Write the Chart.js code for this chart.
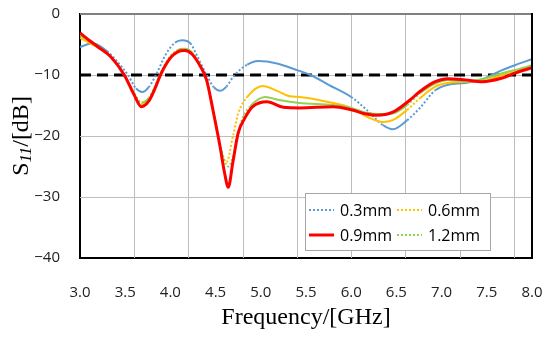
<!DOCTYPE html>
<html>
<head>
<meta charset="utf-8">
<script src="https://cdn.jsdelivr.net/npm/chart.js@4.4.1/dist/chart.umd.min.js"></script>
<style>
html, body { margin: 0; padding: 0; background: #fff; }
#wrap { width: 550px; height: 338px; }
</style>
</head>
<body>
<div id="wrap"><canvas id="myChart" width="550" height="338"></canvas></div>
<script>
// values
var labels = ["0.3mm", "0.6mm", "0.9mm", "1.2mm"];

var freq03 = [3.0, 3.14, 3.3, 3.4, 3.53, 3.62, 3.69, 3.76, 3.84, 3.95, 4.05, 4.13, 4.22, 4.3, 4.4, 4.48, 4.55, 4.62, 4.7, 4.85, 4.97, 5.18, 5.4, 5.55, 5.75, 6.0, 6.17, 6.35, 6.46, 6.62, 6.76, 6.93, 7.07, 7.26, 7.45, 7.67, 7.81, 8.0];
var s11_03 = [-5.4, -4.8, -6.1, -7.6, -10.0, -12.2, -12.8, -12.0, -10.0, -6.6, -4.7, -4.3, -4.8, -7.0, -10.0, -12.0, -12.6, -11.9, -10.2, -8.3, -7.7, -8.1, -9.2, -10.0, -11.6, -13.6, -15.7, -18.2, -18.9, -17.4, -15.4, -12.5, -11.6, -11.3, -10.7, -9.2, -8.4, -7.4];

var freq06 = [3.0, 3.1, 3.2, 3.34, 3.48, 3.6, 3.68, 3.76, 3.83, 3.89, 4.0, 4.08, 4.16, 4.24, 4.32, 4.4, 4.47, 4.54, 4.62, 4.69, 4.75, 4.85, 5.02, 5.18, 5.32, 5.43, 5.8, 6.0, 6.17, 6.35, 6.46, 6.62, 6.76, 6.93, 7.07, 7.26, 7.45, 7.67, 7.81, 8.0];
var s11_06 = [-3.9, -4.7, -5.5, -7.0, -9.8, -13.0, -14.8, -14.0, -12.0, -9.8, -7.0, -6.0, -5.8, -6.4, -8.2, -11.0, -15.5, -21.0, -24.3, -20.2, -16.3, -13.6, -11.8, -12.6, -13.5, -13.6, -14.6, -15.4, -16.8, -17.7, -17.4, -15.7, -13.8, -11.9, -11.3, -11.1, -11.0, -10.0, -9.5, -8.5];

var freq09 = [3.0, 3.1, 3.2, 3.34, 3.49, 3.6, 3.68, 3.76, 3.83, 3.89, 4.0, 4.08, 4.16, 4.24, 4.32, 4.4, 4.47, 4.55, 4.6, 4.64, 4.69, 4.75, 4.83, 4.91, 5.07, 5.25, 5.43, 5.8, 6.0, 6.17, 6.28, 6.46, 6.65, 6.76, 6.93, 7.07, 7.26, 7.45, 7.67, 7.81, 8.0];
var s11_09 = [-3.1, -4.3, -5.4, -7.0, -10.0, -13.3, -15.2, -14.3, -12.2, -10.0, -7.2, -6.2, -6.0, -6.6, -8.3, -10.8, -15.7, -21.8, -26.1, -28.4, -24.4, -19.5, -16.9, -15.2, -14.4, -15.3, -15.4, -15.2, -15.7, -16.4, -16.6, -16.1, -14.1, -12.7, -11.1, -10.6, -10.8, -11.1, -10.5, -9.7, -8.8];

var freq12 = [3.0, 3.1, 3.2, 3.34, 3.49, 3.6, 3.68, 3.76, 3.83, 3.89, 4.0, 4.08, 4.16, 4.24, 4.32, 4.4, 4.47, 4.55, 4.64, 4.72, 4.79, 4.88, 5.05, 5.2, 5.43, 5.8, 6.0, 6.17, 6.35, 6.46, 6.62, 6.76, 6.93, 7.07, 7.26, 7.45, 7.67, 7.81, 8.0];
var s11_12 = [-3.5, -4.4, -5.4, -7.0, -10.0, -13.0, -14.5, -13.8, -11.8, -9.7, -6.9, -5.9, -5.7, -6.3, -8.1, -10.8, -15.5, -21.5, -25.0, -21.8, -17.4, -15.2, -13.6, -14.1, -14.6, -14.9, -15.4, -16.2, -16.4, -16.3, -14.9, -13.0, -11.4, -10.8, -11.0, -10.7, -9.7, -9.2, -8.4];

var refFreq = [3.0, 8.0];
var refLevel = [-10, -10];

var yTicks = [0, -10, -20, -30, -40];
var gridFreqs = [3.6, 4.2, 4.8, 5.4, 6.0, 6.6, 7.2, 7.8];
var gridColor = '#bdbdbd';

function toPoints(xs, ys) {
    var pts = [];
    for (var i = 0; i < xs.length; i++) {
        pts.push({x: xs[i], y: ys[i]});
    }
    return pts;
}

// steep parts look dotted, flat parts look solid
function dottedWhenSteep(ctx) {
    var dx = Math.abs(ctx.p1.x - ctx.p0.x);
    var dy = Math.abs(ctx.p1.y - ctx.p0.y);
    return (dy > 0.8 * dx) ? [2, 2] : [];
}

function seriesSet(label, xs, ys, color, width, dotted, order) {
    var ds = {
        label: label,
        data: toPoints(xs, ys),
        borderColor: color,
        backgroundColor: color,
        borderWidth: width,
        pointRadius: 0,
        fill: false,
        cubicInterpolationMode: 'monotone',
        order: order
    };
    if (dotted) {
        ds.segment = { borderDash: dottedWhenSteep };
        ds.dotted = true;
    }
    return ds;
}

var datasets = [
    seriesSet(labels[0], freq03, s11_03, '#5B9BD5', 2, true, 4),
    seriesSet(labels[1], freq06, s11_06, '#FFC000', 2, true, 3),
    seriesSet(labels[2], freq09, s11_09, '#FF0000', 3, false, 1),
    seriesSet(labels[3], freq12, s11_12, '#92D050', 2, true, 2),
    {
        label: 'ref',
        data: toPoints(refFreq, refLevel),
        borderColor: '#000',
        borderWidth: 3,
        borderDash: [11, 6],
        pointRadius: 0,
        fill: false,
        order: 5
    }
];

var extras = {
    id: 'extras',
    beforeDatasetsDraw: function(chart) {
        // light grid: vertical every 0.6 GHz, horizontal every 10 dB
        var c = chart.ctx;
        var a = chart.chartArea;
        var xs = chart.scales.x, ys = chart.scales.y;
        c.save();
        c.strokeStyle = gridColor;
        c.lineWidth = 1;
        c.beginPath();
        for (var k = 0; k < gridFreqs.length; k++) {
            var px = Math.round(xs.getPixelForValue(gridFreqs[k])) + 0.5;
            c.moveTo(px, a.top);
            c.lineTo(px, a.bottom);
        }
        for (var i = 1; i < yTicks.length - 1; i++) {
            var py = Math.round(ys.getPixelForValue(yTicks[i])) + 0.5;
            c.moveTo(a.left, py);
            c.lineTo(a.right, py);
        }
        c.stroke();
        c.restore();
    },
    afterDraw: function(chart) {
        var c = chart.ctx;
        var a = chart.chartArea;
        c.save();
        // top and right frame
        c.strokeStyle = '#808080';
        c.lineWidth = 2;
        c.beginPath();
        c.moveTo(a.left, a.top);
        c.lineTo(a.right, a.top);
        c.stroke();
        c.strokeStyle = '#000';
        c.beginPath();
        c.moveTo(a.right, a.top - 1);
        c.lineTo(a.right, a.bottom + 1);
        c.stroke();

        // y axis title with italic subscript
        var big = '24px "Liberation Serif"';
        var small = 'italic 17px "Liberation Serif"';
        c.font = big;
        var wS = c.measureText('S').width;
        var wRest = c.measureText('/[dB]').width;
        c.font = small;
        var wSub = c.measureText('11').width;
        var total = wS + wSub + wRest;
        c.translate(22, (a.top + a.bottom) / 2);
        c.rotate(-Math.PI / 2);
        c.fillStyle = '#000';
        c.textBaseline = 'middle';
        c.textAlign = 'left';
        var x0 = -total / 2;
        c.font = big;
        c.fillText('S', x0, 0);
        c.font = small;
        c.fillText('11', x0 + wS, 5);
        c.font = big;
        c.fillText('/[dB]', x0 + wS + wSub, 0);
        c.restore();

        // legend box inside the plot
        c.save();
        var lx = 305, ly = 193, lw = 185, lh = 57;
        c.fillStyle = '#fff';
        c.fillRect(lx, ly, lw, lh);
        c.strokeStyle = '#a6a6a6';
        c.lineWidth = 1;
        c.strokeRect(lx + 0.5, ly + 0.5, lw, lh);
        c.font = '16px "Open Sans"';
        c.textBaseline = 'middle';
        for (var i = 0; i < labels.length; i++) {
            var ds = chart.data.datasets[i];
            var col = i % 2, row = Math.floor(i / 2);
            var sx = lx + 4 + col * 88;
            var sy = ly + 17 + row * 25;
            c.strokeStyle = ds.borderColor;
            c.lineWidth = ds.borderWidth;
            c.setLineDash(ds.dotted ? [2, 2] : []);
            c.beginPath();
            c.moveTo(sx, sy);
            c.lineTo(sx + 25, sy);
            c.stroke();
            c.setLineDash([]);
            c.fillStyle = '#000';
            c.fillText(ds.label, sx + 31, sy + 1);
        }
        c.restore();
    }
};

var ctx = document.getElementById('myChart').getContext('2d');
var s11Chart = new Chart(ctx, {
    type: 'line',
    data: { datasets: datasets },
    options: {
        responsive: false,
        animation: false,
        devicePixelRatio: 1,
        layout: { padding: { left: 0, right: 18, top: 14, bottom: 0 } },
        plugins: {
            legend: { display: false },
            tooltip: { enabled: false }
        },
        scales: {
            x: {
                type: 'linear',
                min: 3,
                max: 8,
                afterBuildTicks: function(scale) {
                    var t = [];
                    for (var v = 3; v <= 8.001; v += 0.5) t.push({value: Math.round(v * 10) / 10});
                    scale.ticks = t;
                },
                afterFit: function(scale) {
                    scale.height = 80;
                    scale.paddingLeft = 0;
                    scale.paddingRight = 0;
                },
                ticks: {
                    autoSkip: false,
                    maxRotation: 0,
                    padding: 18,
                    color: '#222',
                    font: { family: 'Open Sans', size: 15 },
                    callback: function(value) { return value.toFixed(1); }
                },
                grid: { display: false },
                border: { color: '#000', width: 2 },
                title: {
                    display: true,
                    text: 'Frequency/[GHz]',
                    color: '#000',
                    font: { family: 'Liberation Serif', size: 24 },
                    padding: { top: 0, bottom: 6 }
                }
            },
            y: {
                min: -40,
                max: 0,
                afterBuildTicks: function(scale) {
                    scale.ticks = yTicks.map(function(v) { return {value: v}; });
                },
                afterFit: function(scale) {
                    scale.width = 80;
                    scale.paddingTop = 0;
                    scale.paddingBottom = 0;
                },
                ticks: {
                    padding: 12,
                    color: '#222',
                    font: { family: 'Open Sans', size: 15 },
                    callback: function(value) { return value < 0 ? '\u2212' + Math.abs(value) : '' + value; }
                },
                grid: { display: false },
                border: { color: '#000', width: 2 }
            }
        }
    },
    plugins: [extras]
});
</script>
</body>
</html>
